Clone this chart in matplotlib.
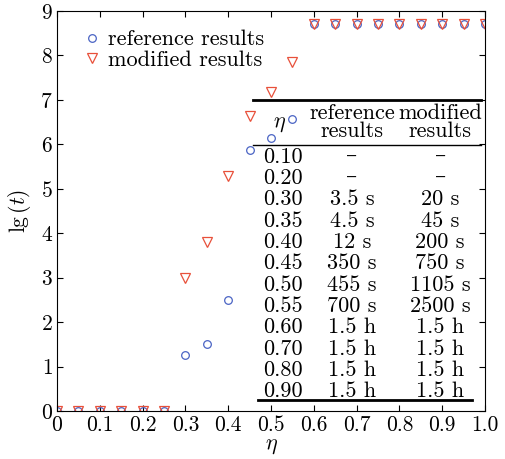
import numpy as np
import matplotlib
matplotlib.use('Agg')
import matplotlib.pyplot as plt

plt.rcParams['font.family'] = ['cmr10', 'DejaVu Serif']
plt.rcParams['mathtext.fontset'] = 'cm'
plt.rcParams['axes.formatter.use_mathtext'] = True

# data
eta = [0.0, 0.05, 0.10, 0.15, 0.20, 0.25, 0.30, 0.35, 0.40, 0.45, 0.50,
       0.55, 0.60, 0.65, 0.70, 0.75, 0.80, 0.85, 0.90, 0.95, 1.00]
lg_ref = [0, 0, 0, 0, 0, 0, 1.25, 1.51, 2.49, 5.88, 6.15,
          6.58, 8.70, 8.70, 8.70, 8.70, 8.70, 8.70, 8.70, 8.70, 8.70]
lg_mod = [0, 0, 0, 0, 0, 0, 2.99, 3.81, 5.29, 6.64, 7.18,
          7.86, 8.70, 8.70, 8.70, 8.70, 8.70, 8.70, 8.70, 8.70, 8.70]

tab_eta = ['0.10', '0.20', '0.30', '0.35', '0.40', '0.45', '0.50', '0.55',
           '0.60', '0.70', '0.80', '0.90']
tab_ref = ['–', '–', '3.5 s', '4.5 s', '12 s', '350 s', '455 s', '700 s',
           '1.5 h', '1.5 h', '1.5 h', '1.5 h']
tab_mod = ['–', '–', '20 s', '45 s', '200 s', '750 s', '1105 s', '2500 s',
           '1.5 h', '1.5 h', '1.5 h', '1.5 h']

fig = plt.figure(figsize=(5.06, 4.59), dpi=100)
ax = fig.add_axes([0.1126, 0.1046, 0.846, 0.8715])

ax.plot(eta, lg_ref, linestyle='none', marker='o', ms=5.5, mfc='none',
        mec='#4a64c4', mew=0.9, label='reference results')
ax.plot(eta, lg_mod, linestyle='none', marker='v', ms=6.5, mfc='none',
        mec='#e8503a', mew=0.9, label='modified results')

ax.set_xlim(0, 1.0)
ax.set_ylim(0, 9)
ax.set_xticks(np.arange(0, 1.01, 0.1))
ax.set_xticklabels(['0', '0.1', '0.2', '0.3', '0.4', '0.5', '0.6', '0.7',
                    '0.8', '0.9', '1.0'])
ax.set_yticks(range(10))
ax.tick_params(direction='in', top=True, right=True, labelsize=15.5,
               length=4, pad=3)
ax.set_xlabel(r'$\eta$', fontsize=16, labelpad=1)
ax.set_ylabel(r'lg$\,(t)$', fontsize=15.5, labelpad=5)

leg = ax.legend(loc='upper left', bbox_to_anchor=(0.03, 0.975), frameon=False,
                fontsize=16, handletextpad=0.1, borderaxespad=0,
                labelspacing=0.05, handlelength=1.2)

# table drawn inside the axes
fs = 16
y0, dy = 5.72, 0.48
for i in range(len(tab_eta)):
    y = y0 - i * dy
    ax.text(0.528, y, tab_eta[i], ha='center', va='center', fontsize=fs)
    ax.text(0.689, y, tab_ref[i], ha='center', va='center', fontsize=fs)
    ax.text(0.895, y, tab_mod[i], ha='center', va='center', fontsize=fs)

ax.text(0.519, 6.46, r'$\eta$', ha='center', va='center', fontsize=fs)
ax.text(0.689, 6.49, 'reference\nresults', ha='center', va='center',
        fontsize=fs, linespacing=0.9)
ax.text(0.895, 6.49, 'modified\nresults', ha='center', va='center',
        fontsize=fs, linespacing=0.9)
ax.plot([0.458, 0.99], [7.0, 7.0], color='black', lw=2)
ax.plot([0.458, 0.99], [5.99, 5.99], color='black', lw=1)
ax.plot([0.47, 0.97], [0.25, 0.25], color='black', lw=2)

fig.savefig('out.png', dpi=100)
